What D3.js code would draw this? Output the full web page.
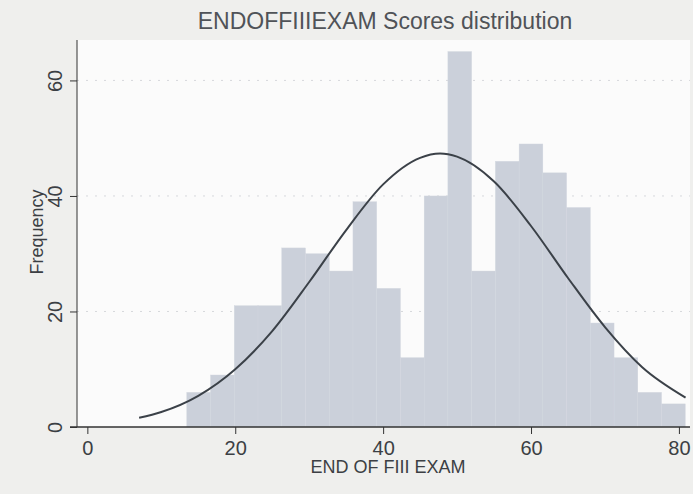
<!DOCTYPE html>
<html>
<head>
<meta charset="utf-8">
<script src="https://cdn.jsdelivr.net/npm/d3@7"></script>
<style>
  body { margin: 0; background: #efefed; }
  text { font-family: "Liberation Sans", Arial, sans-serif; fill: #3c3f44; }
</style>
</head>
<body>
<div id="chart"></div>
<script>
// histogram bins (left edges), bin width and counts
var binStart = [13.45, 16.66, 19.87, 23.08, 26.29, 29.5, 32.71, 35.92, 39.13, 42.34, 45.55,
                48.76, 51.97, 55.18, 58.39, 61.6, 64.81, 68.02, 71.23, 74.44, 77.65];
var binWidth = 3.21;
var counts = [6, 9, 21, 21, 31, 30, 27, 39, 24, 12, 40, 65, 27, 46, 49, 44, 38, 18, 12, 6, 4];

// overlaid normal curve
var curveX = [7, 10, 15, 20, 25, 30, 35, 40, 45, 47.7, 50, 55, 60, 65, 70, 75, 80.9];
var curveY = [1.6, 2.6, 5.4, 10.0, 16.6, 25.1, 34.1, 42.0, 46.6, 47.35, 46.8, 42.5, 34.8, 25.8, 17.3, 10.4, 5.1];

var xTicks = [0, 20, 40, 60, 80];
var yTicks = [0, 20, 40, 60];

var width = 693, height = 494;

var svg = d3.select("#chart")
    .append("svg")
    .attr("width", width)
    .attr("height", height);

svg.append("rect")
    .attr("width", width)
    .attr("height", height)
    .attr("fill", "#efefed");

// plot region
svg.append("rect")
    .attr("x", 77).attr("y", 40)
    .attr("width", 613).attr("height", 387)
    .attr("fill", "#fbfbfb");

var x = d3.scaleLinear().domain([-1.4, 81.5]).range([77, 690]);
var y = d3.scaleLinear().domain([0, 67]).range([427, 40]);

// grid lines
svg.append("g")
    .selectAll("line")
    .data(yTicks.slice(1))
    .enter().append("line")
    .attr("x1", 77).attr("x2", 690)
    .attr("y1", function(d) { return y(d); })
    .attr("y2", function(d) { return y(d); })
    .attr("stroke", "#d6d8dc")
    .attr("stroke-dasharray", "2,7");

// bars
svg.append("g")
    .selectAll("rect")
    .data(counts)
    .enter().append("rect")
    .attr("x", function(d, i) { return x(binStart[i]); })
    .attr("y", function(d) { return y(d); })
    .attr("width", function(d, i) { return x(binStart[i] + binWidth) - x(binStart[i]); })
    .attr("height", function(d) { return y(0) - y(d); })
    .attr("fill", "#cbd0da")
    .attr("stroke", "#d2d6de")
    .attr("stroke-width", 0.4);

// normal curve
var line = d3.line()
    .x(function(d, i) { return x(curveX[i]); })
    .y(function(d) { return y(d); })
    .curve(d3.curveMonotoneX);

svg.append("path")
    .datum(curveY)
    .attr("d", line)
    .attr("fill", "none")
    .attr("stroke", "#3b4148")
    .attr("stroke-width", 2);

// y axis
var yAxis = svg.append("g")
    .attr("transform", "translate(77,0)")
    .call(d3.axisLeft(y).tickValues(yTicks).tickSize(7));
yAxis.select(".domain").attr("d", "M0," + y(0) + "V40").attr("stroke", "#333");
yAxis.selectAll(".tick line").attr("stroke", "#333");
yAxis.selectAll(".tick text")
    .attr("transform", "rotate(-90)")
    .attr("x", 0).attr("dx", null)
    .attr("y", -15).attr("dy", null)
    .style("text-anchor", "middle")
    .style("font-size", "20px");

// x axis
var xAxis = svg.append("g")
    .attr("transform", "translate(0,427)")
    .call(d3.axisBottom(x).tickValues(xTicks).tickSize(7).tickPadding(7));
xAxis.select(".domain").attr("d", "M70,0H690").attr("stroke", "#333").attr("stroke-width", 1.5);
xAxis.selectAll(".tick line").attr("stroke", "#333");
xAxis.selectAll(".tick text").style("font-size", "20px");

// titles
svg.append("text")
    .attr("x", 385).attr("y", 29)
    .style("text-anchor", "middle")
    .style("font-size", "23px")
    .style("fill", "#505358")
    .text("ENDOFFIIIEXAM Scores distribution");

svg.append("text")
    .attr("x", 388).attr("y", 473)
    .style("text-anchor", "middle")
    .style("font-size", "18px")
    .text("END OF FIII EXAM");

svg.append("text")
    .attr("transform", "translate(43,232) rotate(-90)")
    .style("text-anchor", "middle")
    .style("font-size", "18px")
    .text("Frequency");
</script>
</body>
</html>
